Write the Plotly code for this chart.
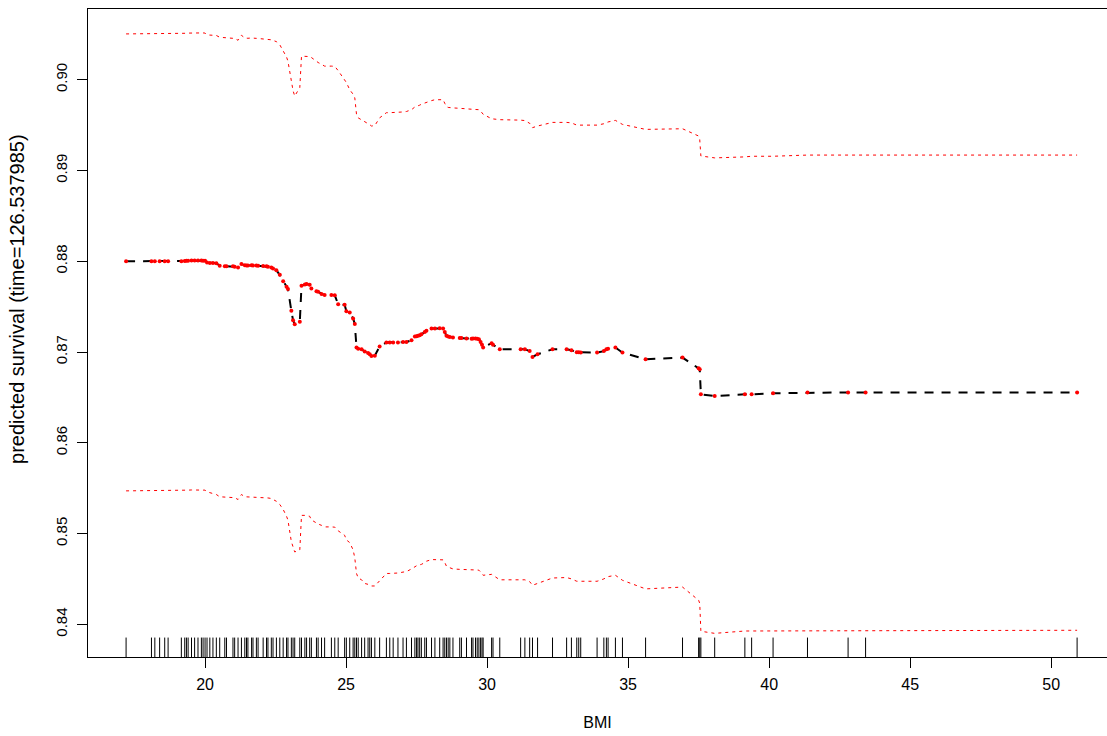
import plotly.graph_objects as go

# Observed BMI values (sorted, unique)
bmi = [17.20, 18.10, 18.22, 18.39, 18.57, 18.69, 19.16, 19.28, 19.34, 19.40,
       19.52, 19.63, 19.75, 19.87, 19.93, 20.00, 20.07, 20.17, 20.28, 20.40,
       20.52, 20.70, 20.76, 20.99, 21.05, 21.17, 21.29, 21.41, 21.47, 21.52,
       21.65, 21.70, 21.82, 21.88, 22.06, 22.18, 22.23, 22.35, 22.41, 22.53,
       22.65, 22.77, 22.89, 22.94, 23.06, 23.12, 23.18, 23.36, 23.42, 23.54,
       23.60, 23.71, 23.77, 23.95, 24.01, 24.13, 24.24, 24.48, 24.60, 24.72,
       24.95, 25.01, 25.13, 25.25, 25.31, 25.37, 25.43, 25.55, 25.66, 25.78,
       25.84, 25.90, 26.02, 26.19, 26.43, 26.55, 26.67, 26.84, 27.02, 27.14,
       27.32, 27.44, 27.50, 27.55, 27.61, 27.67, 27.79, 27.85, 28.03, 28.15,
       28.32, 28.44, 28.50, 28.56, 28.62, 28.68, 28.79, 29.03, 29.09, 29.27,
       29.45, 29.50, 29.59, 29.65, 29.71, 29.77, 29.82, 29.86, 30.16, 30.21,
       30.45, 31.19, 31.34, 31.51, 31.61, 31.79, 32.32, 32.82, 32.99, 33.18,
       33.25, 33.32, 33.90, 34.14, 34.23, 34.29, 34.55, 34.80, 35.62, 36.93,
       37.50, 37.54, 37.58, 38.07, 39.14, 39.38, 40.14, 41.36, 42.80, 43.42,
       50.92]

# Predicted survival at each BMI
surv = [0.88000, 0.88000, 0.88000, 0.88000, 0.88000, 0.88000, 0.88000, 0.88003, 0.88005, 0.88006,
        0.88007, 0.88007, 0.88008, 0.88007, 0.88006, 0.88005, 0.87985, 0.87982, 0.87980, 0.87978,
        0.87950, 0.87946, 0.87945, 0.87945, 0.87940, 0.87930, 0.87970, 0.87955, 0.87953, 0.87953,
        0.87955, 0.87953, 0.87952, 0.87950, 0.87948, 0.87945, 0.87940, 0.87930, 0.87920, 0.87900,
        0.87850, 0.87780, 0.87720, 0.87694, 0.87454, 0.87350, 0.87307, 0.87333, 0.87730, 0.87745,
        0.87749, 0.87740, 0.87700, 0.87670, 0.87665, 0.87640, 0.87628, 0.87628, 0.87625, 0.87525,
        0.87520, 0.87450, 0.87436, 0.87370, 0.87310, 0.87050, 0.87035, 0.87030, 0.87005, 0.86990,
        0.86975, 0.86957, 0.86960, 0.87060, 0.87105, 0.87105, 0.87105, 0.87105, 0.87110, 0.87110,
        0.87130, 0.87170, 0.87175, 0.87180, 0.87185, 0.87195, 0.87220, 0.87235, 0.87260, 0.87260,
        0.87262, 0.87258, 0.87220, 0.87178, 0.87170, 0.87165, 0.87160, 0.87155, 0.87155, 0.87150,
        0.87145, 0.87148, 0.87150, 0.87145, 0.87140, 0.87110, 0.87080, 0.87050, 0.87097, 0.87080,
        0.87030, 0.87030, 0.87030, 0.87010, 0.86946, 0.86975, 0.87030, 0.87030, 0.87020, 0.86998,
        0.86998, 0.86996, 0.86994, 0.87010, 0.87030, 0.87035, 0.87050, 0.86994, 0.86920, 0.86939,
        0.86820, 0.86810, 0.86534, 0.86515, 0.86534, 0.86534, 0.86545, 0.86553, 0.86555, 0.86555,
        0.86555]

# Upper confidence limit
upper = [0.90505, 0.90505, 0.90505, 0.90505, 0.90505, 0.90505, 0.90505, 0.90510, 0.90512, 0.90514,
         0.90516, 0.90516, 0.90517, 0.90516, 0.90516, 0.90514, 0.90495, 0.90492, 0.90490, 0.90488,
         0.90468, 0.90465, 0.90465, 0.90462, 0.90455, 0.90435, 0.90490, 0.90460, 0.90457, 0.90457,
         0.90460, 0.90457, 0.90456, 0.90455, 0.90452, 0.90450, 0.90447, 0.90440, 0.90433, 0.90420,
         0.90385, 0.90325, 0.90250, 0.90204, 0.89980, 0.89880, 0.89820, 0.89915, 0.90260, 0.90260,
         0.90258, 0.90255, 0.90245, 0.90200, 0.90190, 0.90170, 0.90150, 0.90150, 0.90148, 0.90100,
         0.90000, 0.89970, 0.89890, 0.89840, 0.89800, 0.89620, 0.89580, 0.89560, 0.89540, 0.89520,
         0.89505, 0.89490, 0.89495, 0.89580, 0.89637, 0.89637, 0.89637, 0.89640, 0.89645, 0.89650,
         0.89670, 0.89700, 0.89705, 0.89710, 0.89720, 0.89730, 0.89745, 0.89755, 0.89770, 0.89780,
         0.89783, 0.89780, 0.89740, 0.89703, 0.89695, 0.89692, 0.89690, 0.89685, 0.89685, 0.89680,
         0.89675, 0.89675, 0.89678, 0.89672, 0.89670, 0.89655, 0.89635, 0.89620, 0.89570, 0.89568,
         0.89560, 0.89555, 0.89550, 0.89520, 0.89472, 0.89490, 0.89530, 0.89530, 0.89525, 0.89500,
         0.89500, 0.89500, 0.89500, 0.89515, 0.89530, 0.89535, 0.89552, 0.89508, 0.89453, 0.89460,
         0.89380, 0.89340, 0.89160, 0.89139, 0.89150, 0.89157, 0.89157, 0.89170, 0.89170, 0.89170,
         0.89170]

# Lower confidence limit
lower = [0.85470, 0.85470, 0.85470, 0.85470, 0.85470, 0.85470, 0.85470, 0.85474, 0.85476, 0.85478,
         0.85480, 0.85480, 0.85481, 0.85480, 0.85480, 0.85478, 0.85459, 0.85450, 0.85440, 0.85430,
         0.85405, 0.85400, 0.85400, 0.85400, 0.85395, 0.85375, 0.85430, 0.85405, 0.85404, 0.85404,
         0.85406, 0.85404, 0.85403, 0.85402, 0.85400, 0.85398, 0.85392, 0.85386, 0.85375, 0.85355,
         0.85320, 0.85265, 0.85190, 0.85147, 0.84910, 0.84840, 0.84797, 0.84820, 0.85200, 0.85200,
         0.85198, 0.85190, 0.85150, 0.85110, 0.85105, 0.85090, 0.85073, 0.85073, 0.85070, 0.85030,
         0.84980, 0.84930, 0.84900, 0.84820, 0.84730, 0.84560, 0.84510, 0.84490, 0.84450, 0.84440,
         0.84430, 0.84422, 0.84422, 0.84480, 0.84560, 0.84560, 0.84560, 0.84565, 0.84575, 0.84580,
         0.84610, 0.84640, 0.84645, 0.84650, 0.84655, 0.84660, 0.84680, 0.84695, 0.84713, 0.84713,
         0.84715, 0.84710, 0.84680, 0.84640, 0.84630, 0.84620, 0.84610, 0.84605, 0.84605, 0.84605,
         0.84600, 0.84600, 0.84602, 0.84598, 0.84596, 0.84580, 0.84560, 0.84540, 0.84550, 0.84540,
         0.84490, 0.84490, 0.84490, 0.84470, 0.84430, 0.84450, 0.84510, 0.84515, 0.84500, 0.84474,
         0.84474, 0.84474, 0.84474, 0.84500, 0.84520, 0.84525, 0.84540, 0.84485, 0.84390, 0.84410,
         0.84265, 0.84230, 0.83923, 0.83900, 0.83926, 0.83926, 0.83926, 0.83934, 0.83934, 0.83934,
         0.83934]

x_ticks = [20, 25, 30, 35, 40, 45, 50]
y_ticks = [0.84, 0.85, 0.86, 0.87, 0.88, 0.89, 0.90]
y_tick_text = ["0.84", "0.85", "0.86", "0.87", "0.88", "0.89", "0.90"]

x_range = [15.85, 51.98]
y_range = [0.836395, 0.907795]

FONT = "Liberation Sans, Arial, Helvetica, sans-serif"

fig = go.Figure()

# confidence bands (dotted red)
for band in (upper, lower):
    fig.add_trace(go.Scatter(x=bmi, y=band, mode="lines",
                             line=dict(color="#ff0000", width=1, dash="3px,4px"),
                             hoverinfo="skip", showlegend=False))

# predicted survival: dashed black line with red points
fig.add_trace(go.Scatter(x=bmi, y=surv, mode="lines",
                         line=dict(color="black", width=2, dash="9px,8px"),
                         showlegend=False))
fig.add_trace(go.Scatter(x=bmi, y=surv, mode="markers",
                         marker=dict(color="#ff0000", size=4, line=dict(width=0)),
                         showlegend=False))

# rug along the bottom of the panel (3% of panel height)
rug_top = y_range[0] + 0.03 * (y_range[1] - y_range[0])
rx, ry = [], []
for b in bmi:
    rx += [b, b, None]
    ry += [y_range[0], rug_top, None]
fig.add_trace(go.Scatter(x=rx, y=ry, mode="lines",
                         line=dict(color="black", width=1),
                         hoverinfo="skip", showlegend=False))

fig.update_layout(
    width=1107, height=736,
    margin=dict(l=88, r=0, t=9, b=79, autoexpand=False),
    paper_bgcolor="white", plot_bgcolor="white",
    font=dict(family=FONT, color="black", size=15),
    showlegend=False,
    xaxis=dict(
        range=x_range, tickmode="array", tickvals=x_ticks,
        ticks="outside", ticklen=10, tickwidth=1, tickcolor="black",
        showline=True, linecolor="black", linewidth=1, mirror=True,
        showgrid=False, zeroline=False,
        tickfont=dict(size=16), ticklabelstandoff=3,
        title=dict(text="BMI", font=dict(size=16), standoff=24),
    ),
    yaxis=dict(
        range=y_range, tickmode="array", tickvals=y_ticks, ticktext=y_tick_text,
        tickangle=-90,
        ticks="outside", ticklen=10, tickwidth=1, tickcolor="black",
        showline=True, linecolor="black", linewidth=1, mirror=False,
        showgrid=False, zeroline=False,
        tickfont=dict(size=15), ticklabelstandoff=4,
    ),
    annotations=[dict(
        text="predicted survival (time=126.537985)",
        xref="paper", yref="paper", x=-0.069, y=0.552,
        xanchor="center", yanchor="middle", textangle=-90,
        showarrow=False, font=dict(size=20, family=FONT, color="black"),
    )],
)

fig.write_html("out.html")
